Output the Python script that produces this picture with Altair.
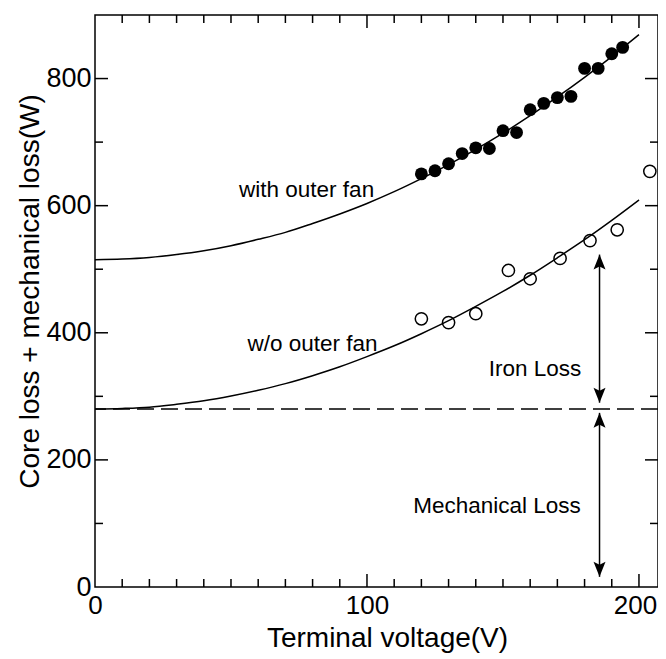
import altair as alt
import pandas as pd

# ---------------- data ----------------
fan_v = [120, 125, 130, 135, 140, 145, 150, 155, 160, 165, 170, 175, 180, 185, 190, 194]
fan_p = [650, 655, 666, 682, 691, 690, 718, 715, 751, 761, 770, 772, 816, 816, 839, 849]

nofan_v = [120, 130, 140, 152, 160, 171, 182, 192, 204]
nofan_p = [422, 416, 430, 498, 485, 517, 545, 562, 654]

curve_v = [0, 10, 20, 30, 40, 50, 60, 70, 80, 90, 100, 110, 120, 130, 140, 150, 160, 170, 180, 190, 200]
fan_fit = [515, 516, 518.5, 523, 529, 537, 547, 558, 572, 587, 603.5, 622, 642.5, 664.5, 688.5, 714, 741.5, 771, 802, 834.5, 869]
nofan_fit = [280, 281, 283, 287.5, 293, 300.5, 309.5, 320, 332.5, 346.5, 362.5, 379.5, 398.5, 419, 441.5, 465, 490.5, 518, 546.5, 577, 609]

mech_loss = [280]

arrow_x = [185.5, 185.5]
arrow_top = [523, 274]
arrow_bot = [290, 16]

labels = ["with outer fan", "w/o outer fan", "Iron Loss", "Mechanical Loss"]
label_x = [77.8, 80, 161.8, 147.8]
label_y = [613, 372, 332, 116]

x_major = [100, 200]
x_minor = [10, 20, 30, 40, 50, 60, 70, 80, 90, 110, 120, 130, 140, 150, 160, 170, 180, 190]
y_major = [200, 400, 600, 800]
y_minor = [100, 300, 500, 700]

x_labels = [0, 100, 200]
y_labels = [0, 200, 400, 600, 800]

# ---------------- chart ----------------
W, H = 563, 572
FONT = "Liberation Sans"
MAJ, MIN = 13, 8

xs = alt.Scale(domain=[0, 207], nice=False, zero=False)
ys = alt.Scale(domain=[0, 900], nice=False, zero=False)

xaxis = alt.Axis(values=x_labels, ticks=False, domain=False, grid=False,
                 labelFontSize=26, labelFont=FONT, labelColor="black",
                 labelPadding=5, labelFlush=False,
                 labelOffset={"condition": {"test": "datum.value == 200", "value": -4}, "value": 0},
                 title="Terminal voltage(V)", titleFontSize=28, titleFont=FONT,
                 titleFontWeight="normal", titleColor="black",
                 titleX=292, titleY=59, titleAlign="center", titleBaseline="alphabetic")
yaxis = alt.Axis(values=y_labels, ticks=False, domain=False, grid=False,
                 labelFontSize=27, labelFont=FONT, labelColor="black",
                 labelPadding=4, labelFlush=False,
                 title="Core loss + mechanical loss(W)", titleFontSize=28, titleFont=FONT,
                 titleFontWeight="normal", titleColor="black",
                 titleX=-57, titleY=276, titleAlign="center", titleBaseline="alphabetic",
                 titleAngle=270)


def X(f):
    return alt.X(f, type="quantitative", scale=xs, axis=xaxis)


def Y(f):
    return alt.Y(f, type="quantitative", scale=ys, axis=yaxis)


fan_df = pd.DataFrame({"v": fan_v, "p": fan_p})
nofan_df = pd.DataFrame({"v": nofan_v, "p": nofan_p})
fit_df = pd.DataFrame({"v": curve_v, "fan": fan_fit, "nofan": nofan_fit})

pts_fan = alt.Chart(fan_df).mark_point(shape="circle", filled=True, size=165,
                                       color="black", opacity=1).encode(x=X("v"), y=Y("p"))
pts_nofan = alt.Chart(nofan_df).mark_point(shape="circle", filled=False, size=150,
                                           color="black", strokeWidth=1.5, opacity=1).encode(
    x=X("v"), y=Y("p"))
line_fan = alt.Chart(fit_df).mark_line(color="black", strokeWidth=1.5, interpolate="monotone").encode(
    x=X("v"), y=Y("fan"))
line_nofan = alt.Chart(fit_df).mark_line(color="black", strokeWidth=1.5, interpolate="monotone").encode(
    x=X("v"), y=Y("nofan"))
dash = alt.Chart(pd.DataFrame({"y": mech_loss})).mark_rule(
    color="black", strokeWidth=1.5, strokeDash=[17, 7]).encode(y=Y("y"))

arr_df = pd.DataFrame({"x": arrow_x, "top": arrow_top, "bot": arrow_bot})
arr_line = alt.Chart(arr_df).mark_rule(color="black", strokeWidth=1.5).encode(
    x=X("x"), y=Y("top"), y2="bot:Q")
head_up = alt.Chart(arr_df).mark_point(shape="M0,0L-0.4,1L0,0.8L0.4,1Z", filled=True, size=900,
                                       color="black", opacity=1, strokeWidth=0).encode(
    x=X("x"), y=Y("top"))
head_down = alt.Chart(arr_df).mark_point(shape="M0,0L-0.4,-1L0,-0.8L0.4,-1Z", filled=True, size=900,
                                         color="black", opacity=1, strokeWidth=0).encode(
    x=X("x"), y=Y("bot"))

txt_df = pd.DataFrame({"t": labels, "x": label_x, "y": label_y})
texts = alt.Chart(txt_df).mark_text(font=FONT, fontSize=22.5, color="black",
                                    align="center", baseline="alphabetic").encode(
    x=X("x"), y=Y("y"), text="t:N")


def xticks(vals, length):
    d = pd.DataFrame({"v": vals})
    bottom = alt.Chart(d).mark_rule(color="black", strokeWidth=1.5).encode(
        x=X("v"), y=alt.value(H), y2=alt.value(H - length))
    top = alt.Chart(d).mark_rule(color="black", strokeWidth=1.5).encode(
        x=X("v"), y=alt.value(0), y2=alt.value(length))
    return [bottom, top]


def yticks(vals, length):
    d = pd.DataFrame({"v": vals})
    left = alt.Chart(d).mark_rule(color="black", strokeWidth=1.5).encode(
        y=Y("v"), x=alt.value(0), x2=alt.value(length))
    right = alt.Chart(d).mark_rule(color="black", strokeWidth=1.5).encode(
        y=Y("v"), x=alt.value(W), x2=alt.value(W - length))
    return [left, right]


tick_layers = xticks(x_major, MAJ) + xticks(x_minor, MIN) + yticks(y_major, MAJ) + yticks(y_minor, MIN)

chart = alt.layer(
    pts_fan, dash, line_fan, line_nofan, pts_nofan, arr_line, head_up, head_down, texts,
    *tick_layers
).properties(
    width=W, height=H,
    autosize=alt.AutoSizeParams(type="none"),
    padding={"left": 87, "top": 7, "right": 0, "bottom": 72},
    background="white",
).configure_view(
    stroke="black", strokeWidth=1.5
)

chart.save("out.html", embed_options={"renderer": "svg", "actions": False})
